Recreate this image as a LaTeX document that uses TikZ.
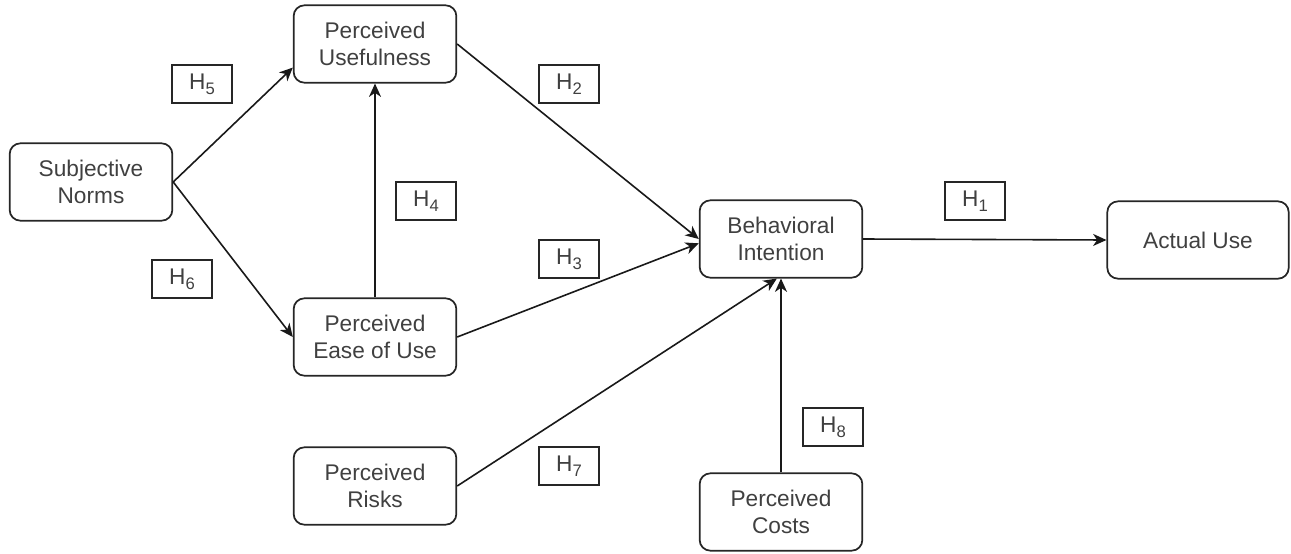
\documentclass[tikz,border=0pt]{standalone}
\usepackage{fontspec}
\setmainfont{Liberation Sans}
\usetikzlibrary{arrows.meta}
\newcommand{\hsub}[1]{H\raisebox{-4pt}{\fontsize{12.5pt}{12.5pt}\selectfont #1}}
\begin{document}
\begin{tikzpicture}[x=0.75pt,y=-0.75pt,
  box/.style={draw=black!85, line width=1.3pt, rounded corners=8pt, minimum width=122pt, minimum height=58pt, align=center, text=black!75, font=\fontsize{17pt}{20.5pt}\selectfont, inner sep=2pt},
  hlab/.style={draw=black!85, line width=1.1pt, minimum width=45pt, minimum height=28.5pt, text=black!75, font=\fontsize{17pt}{20pt}\selectfont, inner sep=0pt},
  conn/.style={line width=1.2pt, draw=black!90, -{Stealth[length=10pt,width=9pt,inset=3pt]}}]
\useasboundingbox (0,0) rectangle (1291,553);
\node[box] (sn) at (91,182) {Subjective\\Norms};
\node[box] (pu) at (375,44) {Perceived\\Usefulness};
\node[box] (peou) at (375,337) {Perceived\\Ease of Use};
\node[box] (pr) at (375,486) {Perceived\\Risks};
\node[box] (bi) at (781,239) {Behavioral\\Intention};
\node[box, minimum width=136pt] (au) at (1198,240) {Actual Use};
\node[box] (pc) at (781,512) {Perceived\\Costs};
\node[hlab] (h5) at (202,84) {\hsub{5}};
\node[hlab] (h4) at (426,201) {\hsub{4}};
\node[hlab] (h6) at (182,279) {\hsub{6}};
\node[hlab] (h2) at (569,84) {\hsub{2}};
\node[hlab] (h3) at (569,259) {\hsub{3}};
\node[hlab] (h7) at (569,466) {\hsub{7}};
\node[hlab] (h8) at (833,427) {\hsub{8}};
\node[hlab] (h1) at (975,201) {\hsub{1}};
\draw[conn] (sn.east) -- (pu.196);
\draw[conn] (sn.east) -- (peou.west);
\draw[conn] (peou.north) -- (pu.south);
\draw[conn] (pu.east) -- (bi.west);
\draw[conn] (peou.east) -- (bi.183);
\draw[conn] (pr.east) -- (bi.264);
\draw[conn] (pc.north) -- (bi.south);
\draw[conn] (bi.east) -- (au.west);
\end{tikzpicture}
\end{document}
